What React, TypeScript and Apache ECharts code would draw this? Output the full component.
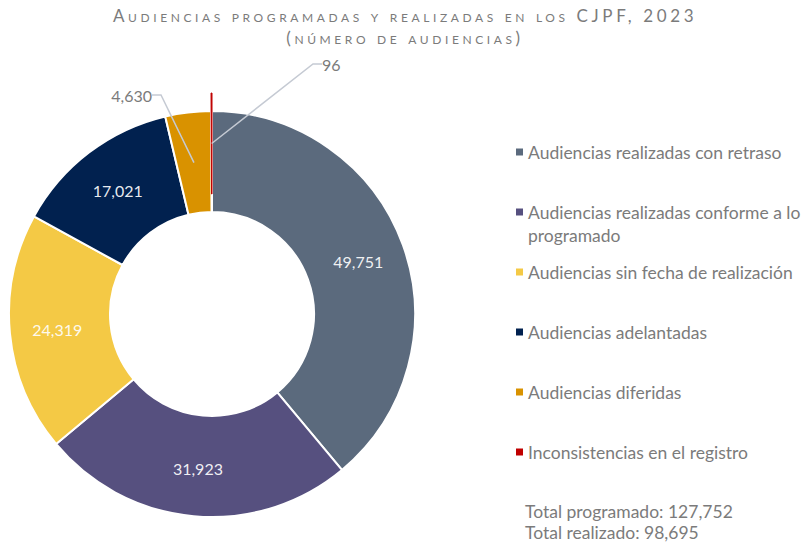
import { useEffect, useRef } from "react";
import * as echarts from "echarts";

// ---------- data ----------
const categories = [
  "Audiencias realizadas con retraso",
  "Audiencias realizadas conforme a lo programado",
  "Audiencias sin fecha de realización",
  "Audiencias adelantadas",
  "Audiencias diferidas",
  "Inconsistencias en el registro",
];
const values = [49751, 31923, 24319, 17021, 4630, 96];
const colors = ["#5B6A7D", "#56507F", "#F4C945", "#01214F", "#D99200", "#C00000"];
const explodedIndex = 5;
const outsideLabelIndices = [4, 5];
const titleLines = ["Audiencias programadas y realizadas en los CJPF, 2023", "(número de audiencias)"];
const totals = ["Total programado: 127,752", "Total realizado: 98,695"];

const GRAY = "#7b7b7b";
const TITLE_FONT = "Lato; font-variant: small-caps; letter-spacing: 3.6px";
const BODY_FONT = "Lato";

const fmt = (v: number) => v.toLocaleString("en-US");

export default function App() {
  const ref = useRef<HTMLDivElement>(null);

  useEffect(() => {
    if (!ref.current) return;
    const chart = echarts.init(ref.current, null, { renderer: "svg" });

    const cx = 212;
    const cy = 314;
    const explode = 18;
    const outerR = 203;
    const innerR = 102;
    const midR = (outerR + innerR) / 2;

    const legends = categories.map((name, i) => {
      const yc = 152 + 60 * i;
      const twoLine = i === 1;
      return {
        orient: "vertical",
        left: 516,
        top: twoLine ? yc - 34.5 : yc - 11.5,
        padding: 0,
        icon: "rect",
        itemWidth: 7,
        itemHeight: 7,
        selectedMode: false,
        itemStyle: { borderWidth: 0 },
        // wrapped entry: an empty first line keeps the icon level with the first text line
        formatter: (n: string) =>
          n.includes("conforme a lo ") ? "\n" + n.replace("conforme a lo ", "conforme a lo\n") : n,
        textStyle: {
          color: GRAY,
          fontSize: 17.5,
          fontFamily: BODY_FONT,
          lineHeight: 23,
        },
        data: [{ name, itemStyle: { color: colors[i], borderWidth: 0, opacity: 1 } }],
      };
    });

    const textEl = (text: string, x: number, y: number, size: number, family: string, align: string) => ({
      type: "text",
      x,
      y,
      silent: true,
      style: {
        text,
        fill: GRAY,
        fontSize: size,
        fontFamily: family,
        textAlign: align,
        textVerticalAlign: "middle",
      },
    });

    const base = {
      type: "pie",
      startAngle: 90,
      clockwise: true,
      avoidLabelOverlap: false,
      emphasis: { disabled: true },
      selectedMode: false,
    };

    const numLabel = (p: any) => fmt(p.value);

    // transparent helper ring whose outer edge is the ring's mid radius,
    // so the leader line of an outside label starts inside the slice
    const outsideLabelSeries = (idx: number, center: number[], layout: any) => ({
      ...base,
      z: 3,
      silent: true,
      center,
      radius: [0, midR],
      itemStyle: { opacity: 0, borderWidth: 0 },
      label: {
        show: false,
        position: "outside",
        color: GRAY,
        fontSize: 16,
        fontFamily: BODY_FONT,
        formatter: numLabel,
      },
      labelLine: {
        show: false,
        length: 10,
        length2: 9,
        lineStyle: { color: "#C5CAD3", width: 1.5, opacity: 1 },
      },
      labelLayout: (p: any) => (p.dataIndex === idx ? layout : {}),
      data: values.map((v, i) => ({
        name: "",
        value: v,
        itemStyle: { color: colors[i] },
        label: { show: i === idx, opacity: 1, padding: idx === 4 ? [0, 9, 0, 0] : [0, 0, 0, 9] },
        labelLine: { show: i === idx },
      })),
    });

    const option: any = {
      animation: false,
      backgroundColor: "#ffffff",
      legend: legends,
      graphic: [
        textEl(titleLines[0], 405, 15, 17, TITLE_FONT, "center"),
        textEl(titleLines[1], 405, 37, 17, TITLE_FONT, "center"),
        textEl(totals[0], 525, 511, 17.5, BODY_FONT, "left"),
        textEl(totals[1], 525, 532, 17.5, BODY_FONT, "left"),
      ],
      series: [
        {
          ...base,
          center: [cx, cy],
          radius: [innerR, outerR],
          itemStyle: { borderColor: "#ffffff", borderWidth: 2 },
          label: {
            show: true,
            position: "inside",
            color: "rgba(255,255,255,0.92)",
            fontSize: 16,
            fontFamily: BODY_FONT,
            formatter: numLabel,
          },
          labelLine: { show: false },
          data: values.map((v, i) => ({
            name: i === explodedIndex ? "" : categories[i],
            value: v,
            itemStyle:
              i === explodedIndex
                ? { color: colors[i], opacity: 0, borderWidth: 0 }
                : { color: colors[i] },
            label: { show: !outsideLabelIndices.includes(i) },
          })),
        },
        {
          // exploded slice, pulled outward
          ...base,
          silent: true,
          center: [cx, cy - explode],
          radius: [innerR, outerR],
          label: { show: false },
          labelLine: { show: false },
          data: values.map((v, i) => ({
            name: i === explodedIndex ? categories[i] : "",
            value: v,
            itemStyle:
              i === explodedIndex
                ? { color: colors[i], borderColor: colors[i], borderWidth: 1 }
                : { color: colors[i], opacity: 0, borderWidth: 0 },
          })),
        },
        outsideLabelSeries(4, [cx, cy], { x: 161, y: 95, align: "right", verticalAlign: "middle" }),
        outsideLabelSeries(5, [cx, cy - explode], { x: 313, y: 64, align: "left", verticalAlign: "middle" }),
      ],
    };

    chart.setOption(option);
    return () => chart.dispose();
  }, []);

  return (
    <div
      ref={ref}
      style={{ position: "fixed", left: 0, top: 0, width: 810, height: 543, background: "#fff" }}
    />
  );
}
